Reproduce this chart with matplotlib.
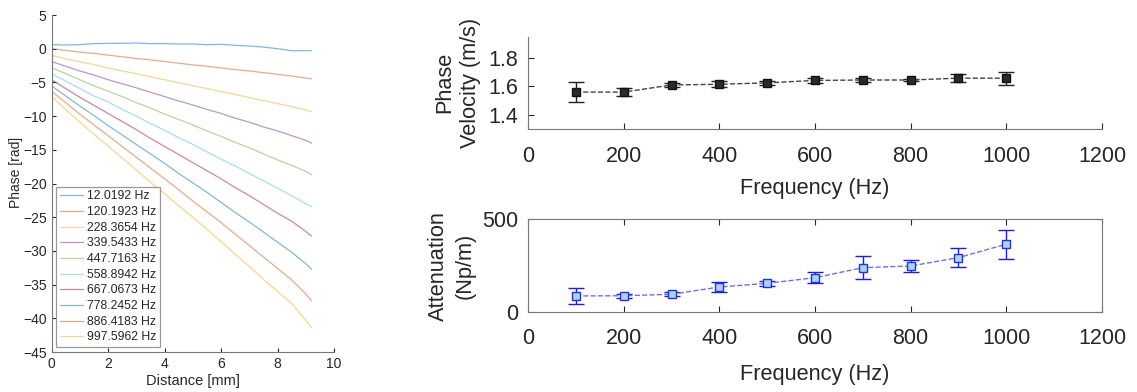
import numpy as np
import matplotlib
matplotlib.use('Agg')
import matplotlib.pyplot as plt

plt.rcParams['font.family'] = ['Liberation Sans', 'DejaVu Sans']

# phase vs. distance, one trace per drive frequency
distance = [0, 0.5, 1, 1.5, 2, 2.5, 3, 3.5, 4, 4.5, 5, 5.5, 6, 6.5, 7, 7.5, 8, 8.5, 9, 9.2]
freq_labels = ['12.0192 Hz', '120.1923 Hz', '228.3654 Hz', '339.5433 Hz', '447.7163 Hz',
               '558.8942 Hz', '667.0673 Hz', '778.2452 Hz', '886.4183 Hz', '997.5962 Hz']
phase = [
    [0.6, 0.55, 0.6, 0.75, 0.8, 0.8, 0.85, 0.75, 0.75, 0.7, 0.7, 0.6, 0.65, 0.5, 0.4, 0.25, 0.0, -0.3, -0.3, -0.3],
    [0.0, -0.25, -0.5, -0.7, -0.95, -1.2, -1.45, -1.65, -1.9, -2.15, -2.4, -2.6, -2.85, -3.1, -3.3, -3.55, -3.8, -4.05, -4.35, -4.45],
    [-1.0, -1.5, -1.95, -2.35, -2.85, -3.3, -3.7, -4.15, -4.6, -5.05, -5.5, -5.9, -6.35, -6.8, -7.25, -7.7, -8.15, -8.6, -9.1, -9.35],
    [-1.9, -2.6, -3.3, -3.9, -4.6, -5.2, -5.8, -6.45, -7.1, -7.75, -8.35, -9.0, -9.6, -10.3, -10.9, -11.6, -12.2, -12.9, -13.6, -14.0],
    [-2.8, -3.7, -4.6, -5.5, -6.3, -7.1, -8.0, -8.8, -9.7, -10.5, -11.3, -12.2, -13.0, -13.9, -14.7, -15.6, -16.5, -17.3, -18.2, -18.7],
    [-3.7, -4.8, -5.9, -7.0, -7.9, -9.0, -10.0, -11.1, -12.1, -13.2, -14.2, -15.3, -16.4, -17.4, -18.5, -19.6, -20.7, -21.8, -23.0, -23.4],
    [-4.6, -5.9, -7.2, -8.4, -9.6, -10.8, -12.0, -13.3, -14.5, -15.7, -16.9, -18.1, -19.3, -20.6, -21.8, -23.1, -24.4, -25.6, -27.1, -27.8],
    [-5.5, -7.0, -8.5, -9.9, -11.4, -12.8, -14.2, -15.6, -17.0, -18.5, -19.9, -21.3, -22.8, -24.3, -25.7, -27.2, -28.7, -30.2, -31.9, -32.7],
    [-6.3, -8.0, -9.7, -11.3, -12.9, -14.5, -16.1, -17.7, -19.3, -20.9, -22.6, -24.2, -25.8, -27.5, -29.2, -30.9, -32.6, -34.3, -36.4, -37.4],
    [-7.1, -9.0, -10.9, -12.7, -14.4, -16.2, -18.0, -19.8, -21.5, -23.3, -25.0, -26.8, -28.6, -30.5, -32.3, -34.2, -36.0, -37.8, -40.3, -41.4],
]

# fitted wave parameters per frequency
freq = [100, 200, 300, 400, 500, 600, 700, 800, 900, 1000]
velocity = [1.56, 1.56, 1.61, 1.615, 1.625, 1.642, 1.645, 1.645, 1.658, 1.658]
velocity_err = [0.07, 0.03, 0.015, 0.02, 0.015, 0.02, 0.015, 0.01, 0.03, 0.045]
attenuation = [88, 89, 97, 136, 156, 186, 240, 249, 294, 366]
attenuation_err = [45, 10, 12, 25, 12, 30, 60, 33, 52, 78]

matlab_colors = ['#0072BD', '#D95319', '#EDB120', '#7E2F8E', '#77AC30', '#4DBEEE', '#A2142F']
spine_col = '#777777'
text_col = '#262626'

fig = plt.figure(figsize=(11.37, 3.92), dpi=100)

ax1 = fig.add_axes([0.0453, 0.102, 0.2485, 0.8597])
for i, (ph, lab) in enumerate(zip(phase, freq_labels)):
    ax1.plot(distance, ph, color=matlab_colors[i % 7], lw=0.9, alpha=0.5, label=lab)
ax1.set_xlim(0, 10)
ax1.set_ylim(-45, 5)
ax1.set_xticks(range(0, 11, 2))
ax1.set_yticks(range(-45, 6, 5))
ax1.set_xlabel('Distance [mm]', fontsize=10.5, color=text_col, labelpad=2)
ax1.set_ylabel('Phase [rad]', fontsize=10, color=text_col)
ax1.yaxis.set_label_coords(-0.10, 0.534)
ax1.tick_params(direction='in', labelsize=10, colors=text_col, length=3)
for s in ['top', 'right']:
    ax1.spines[s].set_visible(False)
for s in ['left', 'bottom']:
    ax1.spines[s].set_color(spine_col)
leg = ax1.legend(loc='lower left', fontsize=8.8, fancybox=False, framealpha=1,
                 edgecolor='#999999', handlelength=1.9, handletextpad=0.3,
                 labelspacing=0.3, borderaxespad=0.4, borderpad=0.3)
leg.get_frame().set_linewidth(0.9)
for t in leg.get_texts():
    t.set_color(text_col)

ax2 = fig.add_axes([0.4644, 0.6709, 0.5048, 0.2355])
ax2.errorbar(freq, velocity, yerr=velocity_err, fmt='s--', color='#444444', ecolor='#222222',
             mfc='#2a2a2a', mec='#111111', ms=6, capsize=6, elinewidth=1, lw=1)
ax2.set_xlim(0, 1200)
ax2.set_ylim(1.3, 1.95)
ax2.set_xticks(range(0, 1201, 200))
ax2.set_yticks([1.4, 1.6, 1.8])
ax2.set_xlabel('Frequency (Hz)', fontsize=15.7, color=text_col, labelpad=7.5)
ax2.set_ylabel('Phase\nVelocity (m/s)', fontsize=15.7, color=text_col, labelpad=5, linespacing=1.3)
ax2.tick_params(direction='in', labelsize=15.5, colors=text_col, length=4)
ax2.tick_params(axis='x', pad=12.5)
ax2.tick_params(axis='y', pad=7)
for s in ['top', 'right']:
    ax2.spines[s].set_visible(False)
for s in ['left', 'bottom']:
    ax2.spines[s].set_color(spine_col)

ax3 = fig.add_axes([0.4644, 0.2033, 0.5048, 0.2373])
ax3.errorbar(freq, attenuation, yerr=attenuation_err, fmt='s--', color='#6f6ff5', ecolor='#1a1aff',
             mfc='#a6d8ea', mec='#2a2af0', ms=6, capsize=6, elinewidth=1, lw=1)
ax3.set_xlim(0, 1200)
ax3.set_ylim(0, 500)
ax3.set_xticks(range(0, 1201, 200))
ax3.set_yticks([0, 500])
ax3.set_xlabel('Frequency (Hz)', fontsize=15.7, color=text_col, labelpad=11)
ax3.set_ylabel('Attenuation\n(Np/m)', fontsize=15.7, color=text_col, labelpad=5, linespacing=1.3)
ax3.tick_params(direction='in', labelsize=15.5, colors=text_col, length=4,
                top=True, right=True)
ax3.tick_params(axis='x', pad=11)
ax3.tick_params(axis='y', pad=7)
for s in ax3.spines.values():
    s.set_color(spine_col)

fig.savefig('out.png', dpi=100)
